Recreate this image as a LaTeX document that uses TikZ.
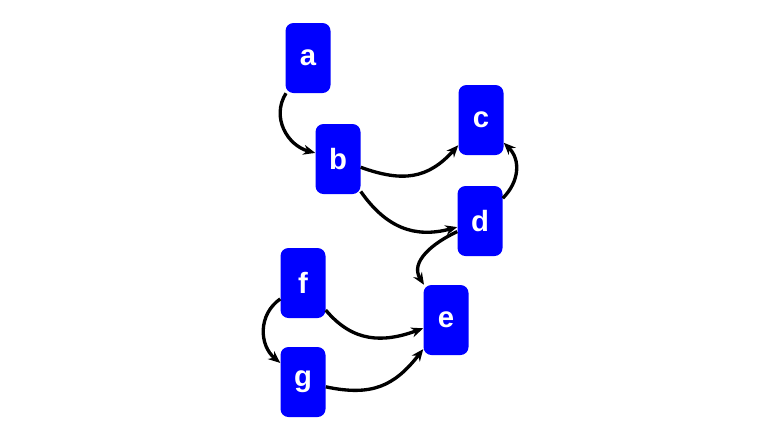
\documentclass[tikz,border=0pt]{standalone}
\usepackage{fontspec}
\setmainfont{Liberation Sans}
\usepackage{tikz}
\usetikzlibrary{arrows.meta}

\begin{document}
\begin{tikzpicture}[x=0.03cm, y=-0.03cm, every node/.style={rectangle, rounded corners=0.24cm, fill=blue, text=white, minimum width=1.35cm, minimum height=2.1cm, inner sep=0pt, font=\fontsize{25}{30}\selectfont\bfseries}]
                \useasboundingbox (0,0) rectangle (784,441);
                \node (a) at (308,58) {a};
                \node (b) at (338,159) {b};
                \node (c) at (481,120) {c};
                \node (d) at (480,221) {d};
                \node (e) at (446,320) {e};
                \node (f) at (303,283) {f};
                \node (g) at (303,382) {g};
                \begin{scope}[line width=0.1cm, -{Stealth[length=0.36cm, width=0.3cm]}]
                \draw (a) to[out=238, in=165, looseness=1.1] (b);
                \draw (b) to[out=-20, in=228, looseness=1.15] (c);
                \draw (b) to[out=-55, in=195, looseness=1.1] (d);
                \draw (d) to[out=45, in=-45, looseness=1.1] (c);
                \draw (d) to[out=205, in=122, looseness=1.1] (e);
                \draw (f) to[out=-50, in=200, looseness=1.1] (e);
                \draw (f) to[out=215, in=140, looseness=1.1] (g);
                \draw (g) to[out=-12, in=232, looseness=1.15] (e);
                \end{scope}
            \end{tikzpicture}
\end{document}
